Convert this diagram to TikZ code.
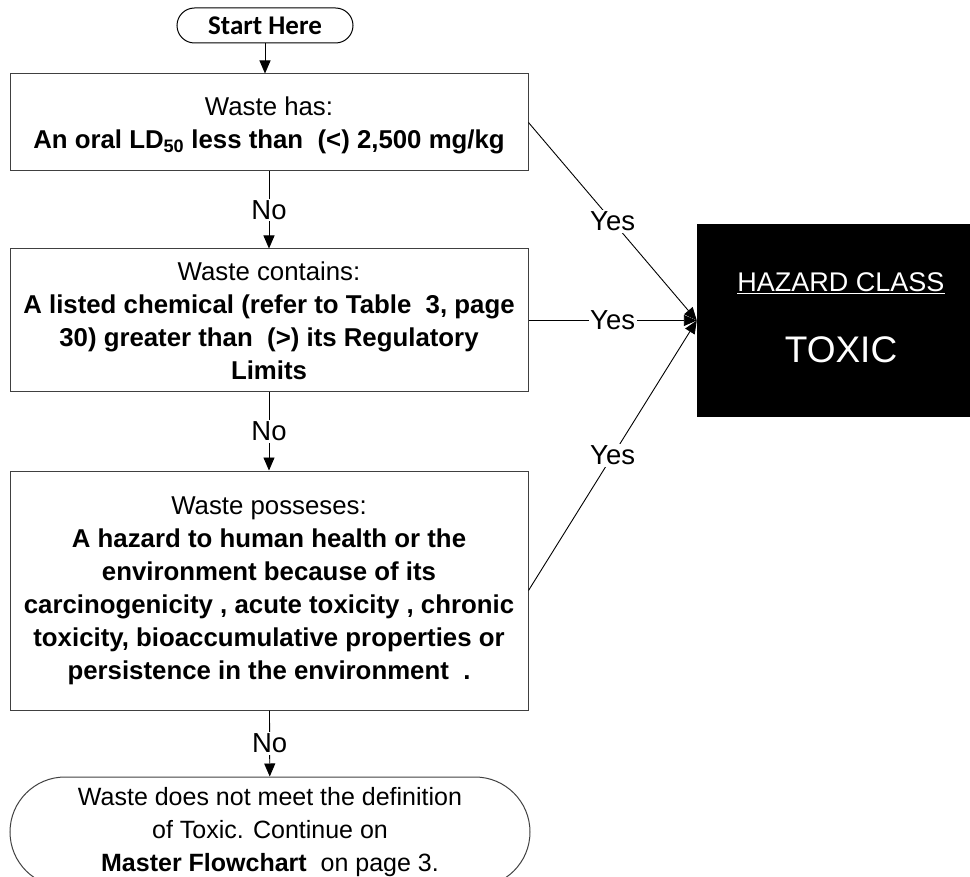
\documentclass[tikz,border=0pt]{standalone}
\usepackage{fontspec}
\setmainfont{Liberation Sans}
\newfontfamily\calfont{Carlito}
\usetikzlibrary{arrows.meta}

\begin{document}
\begin{tikzpicture}[x=1pt,y=-1pt,
    tip/.style={line width=0.9pt,-{Triangle[length=13pt,width=11pt]}},
    box/.style={draw=black!75,line width=1pt,minimum width=518pt,align=center,inner sep=0pt,
        font=\fontsize{25.8}{33}\selectfont},
    lbl/.style={fill=white,inner sep=1.5pt,font=\fontsize{27.5}{30}\selectfont}]
    \useasboundingbox (0,0) rectangle (970,877);
    % flow boxes
    \node[draw,line width=1pt,rounded corners=17.5pt,minimum width=176pt,minimum height=35pt,
        font=\calfont\bfseries\fontsize{27}{30}\selectfont] (start) at (265,25.5) {Start Here};
    \node[box,minimum height=97pt] (has) at (269,122.5)
        {\\[-8pt]Waste has:\\ \textbf{An oral LD\textsubscript{50} less than~ (<) 2,500 mg/kg}};
    \node[box,minimum height=143pt] (contains) at (269,320.5)
        {Waste contains:\\ \textbf{A listed chemical (refer to Table~ 3, page}\\
        \textbf{30) greater than~ (>) its Regulatory}\\ \textbf{Limits}};
    \node[box,minimum height=239pt] (posses) at (269,590.5)
        {Waste posseses:\\ \textbf{A hazard to human health or the}\\
        \textbf{environment because of its}\\
        \textbf{carcinogenicity , acute toxicity , chronic}\\
        \textbf{toxicity, bioaccumulative properties or}\\
        \textbf{persistence in the environment~ .}};
    \node[box,minimum width=520pt,minimum height=110pt,rounded corners=55pt,
        font=\fontsize{25}{33}\selectfont] (stop) at (270,832)
        {Waste does not meet the definition\\ of Toxic. Continue on\\
        \textbf{Master Flowchart}~ on page 3.};
    % result
    \node[fill=black,minimum width=288pt,minimum height=193pt,inner sep=0pt] (toxic) at (841,320.5) {};
    \node[text=white,font=\fontsize{27}{30}\selectfont] (hazlbl) at (841,283) {\underline{HAZARD CLASS}};
    \node[text=white,font=\fontsize{37}{40}\selectfont] (toxlbl) at (841,350) {TOXIC};
    % connectors
    \draw[tip] (start.south) -- (start.south |- has.north);
    \draw[tip] (has) -- node[lbl] {No} (contains);
    \draw[tip] (contains) -- node[lbl] {No} (posses);
    \draw[tip] (posses) -- node[lbl] {No} (stop);
    \draw[tip] (has.east) -- node[lbl] {Yes} (toxic.west);
    \draw[tip] (contains.east) -- node[lbl] {Yes} (toxic.west);
    \draw[tip] (posses.east) -- node[lbl] {Yes} (toxic.west);
\end{tikzpicture}
\end{document}
